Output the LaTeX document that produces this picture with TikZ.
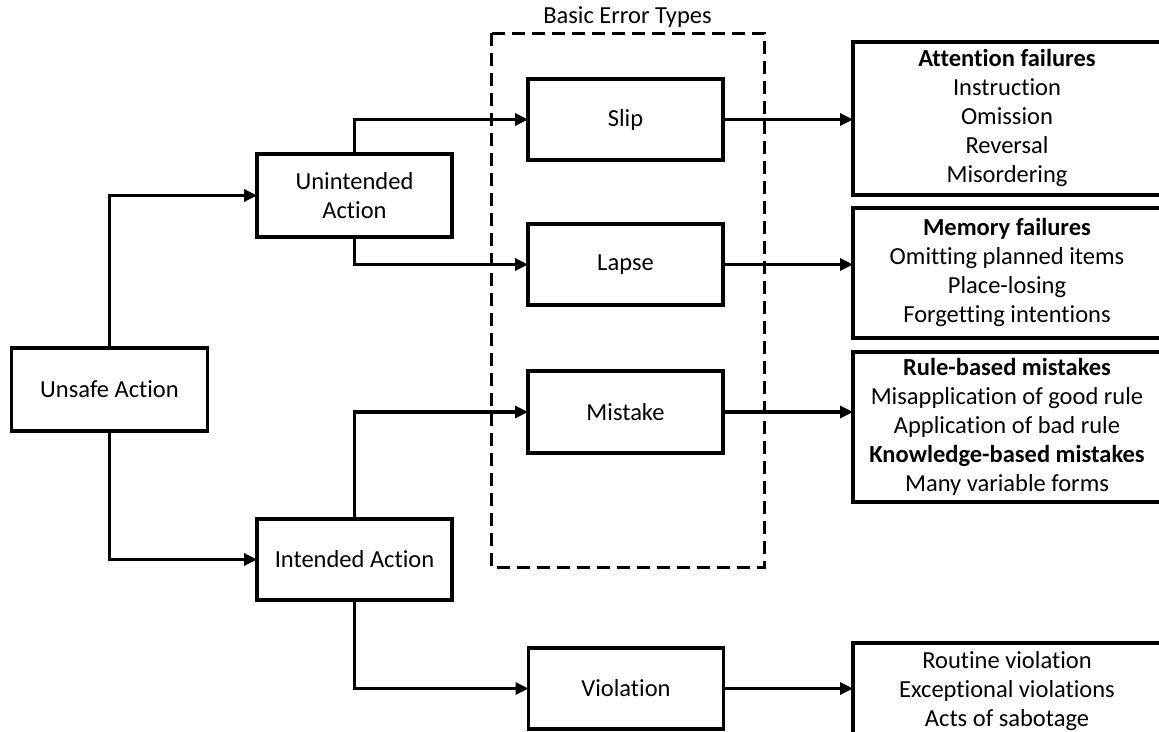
\documentclass[tikz,border=0pt]{standalone}
\usepackage{fontspec}
\setmainfont{Carlito}[Ligatures=NoCommon]
\usetikzlibrary{arrows.meta,calc}
\begin{document}
\begin{tikzpicture}[x=1pt,y=-1pt,
  every node/.style={inner sep=0pt,outer sep=0pt,font=\fontsize{24.5}{29}\selectfont},
  box/.style={draw,line width=3.2pt,rectangle,align=center},
  arr/.style={line width=3.4pt,-{Triangle[length=13pt,width=12pt]}},
  group/.style={draw,line width=3pt,dash pattern=on 13pt off 7pt}]
\useasboundingbox (0,0) rectangle (1159,731);

% left-hand chain of actions
\node[box,minimum width=196pt,minimum height=83pt] (unsafe) at (109.5,389.5) {Unsafe Action};
\node[box,minimum width=195pt,minimum height=83pt] (unint) at (354.5,195.5) {Unintended\\Action};
\node[box,minimum width=195pt,minimum height=81pt] (inten) at (354.5,559.5) {Intended Action};

% the basic error types
\node[box,minimum width=195pt,minimum height=81pt] (slip) at (625.5,119.5) {Slip};
\node[box,minimum width=195pt,minimum height=81pt] (lapse) at (625.5,264.5) {Lapse};
\node[box,minimum width=195pt,minimum height=82pt] (mistake) at (625.5,412) {Mistake};
\node[box,minimum width=195pt,minimum height=81pt] (viol) at (626,688.5) {Violation};

% dashed frame round the error types
\draw[group] (491,33) rectangle (764,567);
\node (title) at (627.5,17) {Basic Error Types};

% descriptions on the right
\node[box,minimum width=308pt,minimum height=153pt] (att) at (1007,118.5)
  {\textbf{Attention failures}\\Instruction\\Omission\\Reversal\\Misordering};
\node[box,minimum width=308pt,minimum height=130pt] (mem) at (1007,273)
  {\textbf{Memory failures}\\Omitting planned items\\Place-losing\\Forgetting intentions};
\node[box,minimum width=308pt,minimum height=150pt] (rule) at (1007,427)
  {\textbf{Rule-based mistakes}\\Misapplication of good rule\\Application of bad rule\\\textbf{Knowledge-based mistakes}\\Many variable forms};
\node[box,minimum width=308pt,minimum height=96pt] (vdesc) at (1007,691)
  {Routine violation\\Exceptional violations\\Acts of sabotage};

% connectors
\draw[arr] (unsafe.north) |- (unint.west);
\draw[arr] (unsafe.south) |- (inten.west);
\draw[arr] (unint.north) |- (slip.west);
\draw[arr] (unint.south) |- (lapse.west);
\draw[arr] (inten.north) |- (mistake.west);
\draw[arr] (inten.south) |- (viol.west);
\draw[arr] (slip.east) -- (slip.east -| att.west);
\draw[arr] (lapse.east) -- (lapse.east -| mem.west);
\draw[arr] (mistake.east) -- (mistake.east -| rule.west);
\draw[arr] (viol.east) -- (viol.east -| vdesc.west);
\end{tikzpicture}
\end{document}
